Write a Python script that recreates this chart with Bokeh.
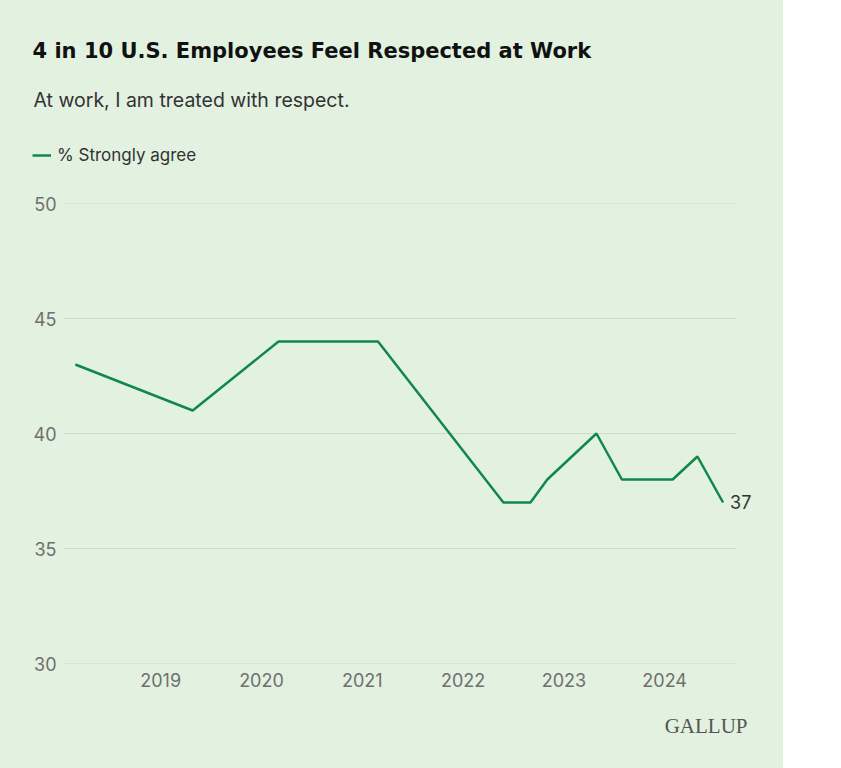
from datetime import date
from bokeh.plotting import figure
from bokeh.layouts import column, row
from bokeh.models import Label, Legend, LegendItem, FixedTicker, BasicTickFormatter, ColumnDataSource, Range1d
from bokeh.embed import file_html
from bokeh.resources import INLINE

# ---- data ----
survey_dates = ["2018-02-26", "2019-04-27", "2020-03-03", "2021-02-27", "2022-05-27",
                "2022-09-02", "2022-11-02", "2023-04-29", "2023-07-30", "2024-01-30",
                "2024-04-29", "2024-07-31"]
strongly_agree = [43, 41, 44, 44, 37, 37, 38, 40, 38, 38, 39, 37]
year_ticks = [2019, 2020, 2021, 2022, 2023, 2024]
y_ticks = [30, 35, 40, 45, 50]

title_text = "4 in 10 U.S. Employees Feel Respected at Work"
subtitle_text = "At work, I am treated with respect."
series_name = "% Strongly agree"
source_text = "GALLUP"

def decimal_year(s):
    d = date.fromisoformat(s)
    start = date(d.year, 1, 1)
    end = date(d.year + 1, 1, 1)
    return d.year + (d - start).days / (end - start).days

xs = [decimal_year(s) for s in survey_dates]
src = ColumnDataSource(dict(x=xs, y=strongly_agree))

BG = "#e2f1e0"
GREEN = "#10884a"
GRID = "#cddccb"
FONT = "Inter"
W = 783

def no_align(fig):
    if "frame_align" in fig.properties():
        fig.frame_align = False
    return fig

def panel(height):
    fig = figure(width=W, height=height, x_range=Range1d(0, W), y_range=Range1d(height, 0),
                 output_backend="svg", toolbar_location=None,
                 x_axis_location=None, y_axis_location=None,
                 min_border=0, min_border_left=0, min_border_right=0,
                 min_border_top=0, min_border_bottom=0)
    fig.background_fill_color = None
    fig.border_fill_color = BG
    fig.outline_line_color = None
    fig.grid.visible = False
    return no_align(fig)

# ---- header (title, subtitle, legend) ----
HH = 185
hdr = panel(HH)
hdr.add_layout(Label(x=32, y=50.5, text=title_text, text_font="DejaVu Sans", text_font_style="bold",
                     text_font_size="21px", text_color="#111111", text_baseline="alphabetic"))
hdr.add_layout(Label(x=33, y=99.5, text=subtitle_text, text_font=FONT, text_font_size="19.5px",
                     text_color="#333333", text_baseline="alphabetic"))
# legend swatch renderer (kept outside the visible header range)
legend_line = hdr.line(x=[-100, -50], y=[-100, -100], line_color=GREEN, line_width=2.5)
legend = Legend(items=[LegendItem(label=series_name, renderers=[legend_line])], location=(32, 20),
                orientation="horizontal", glyph_width=19, glyph_height=18, label_height=18,
                label_standoff=6, padding=0, margin=0, spacing=0,
                border_line_color=None, background_fill_alpha=0,
                label_text_font=FONT, label_text_font_size="17px", label_text_color="#333333")
hdr.add_layout(legend, "center")

# ---- main chart ----
FRAME_TOP, FRAME_BOTTOM, FRAME_LEFT = 18, 42, 63
MAIN_H = 705 - HH
x_start, grid_end = 2018.036, 2024.709
px_per_year = 100.8
x_end = x_start + (W - FRAME_LEFT) / px_per_year

p = figure(width=W, height=MAIN_H, x_range=Range1d(x_start, x_end), y_range=Range1d(30, 50),
           output_backend="svg", toolbar_location=None,
           min_border_left=FRAME_LEFT, min_border_right=0,
           min_border_top=FRAME_TOP, min_border_bottom=FRAME_BOTTOM)
no_align(p)
p.background_fill_color = None
p.border_fill_color = BG
p.outline_line_color = None
p.xgrid.grid_line_color = None
p.ygrid.grid_line_color = None

# horizontal gridlines ending before the end-label area
p.segment(x0=[x_start] * len(y_ticks), x1=[grid_end] * len(y_ticks), y0=y_ticks, y1=y_ticks,
          line_color=GRID, line_width=1)

r = p.line("x", "y", source=src, line_color=GREEN, line_width=2.5)

for ax in (p.xaxis[0], p.yaxis[0]):
    ax.axis_line_color = None
    ax.major_tick_line_color = None
    ax.minor_tick_line_color = None
    ax.major_label_text_font = FONT
    ax.major_label_text_font_size = "18px"
    ax.major_label_text_color = "#6f6f6f"
p.xaxis.ticker = FixedTicker(ticks=year_ticks)
p.xaxis.formatter = BasicTickFormatter(use_scientific=False)
p.xaxis.major_label_standoff = 3
p.yaxis.ticker = FixedTicker(ticks=y_ticks)
p.yaxis.major_label_standoff = 1

p.add_layout(Label(x=xs[-1], y=strongly_agree[-1], text=str(strongly_agree[-1]), x_offset=7,
                   y_offset=1, text_baseline="middle", text_font=FONT, text_font_size="18px",
                   text_color="#333333"))

# ---- footer (source logo) ----
FH = 768 - 705
ftr = panel(FH)
ftr.add_layout(Label(x=747, y=20, text=source_text, text_font="Liberation Serif",
                     text_font_size="21px", text_color="#555555",
                     text_align="right", text_baseline="alphabetic"))

if "frame_align" in p.properties():
    layout = column(hdr, p, ftr, spacing=0, styles={"background-color": BG})
else:
    layout = column(row(hdr), p, row(ftr), spacing=0, styles={"background-color": BG})
open("out.html", "w").write(file_html(layout, INLINE))
